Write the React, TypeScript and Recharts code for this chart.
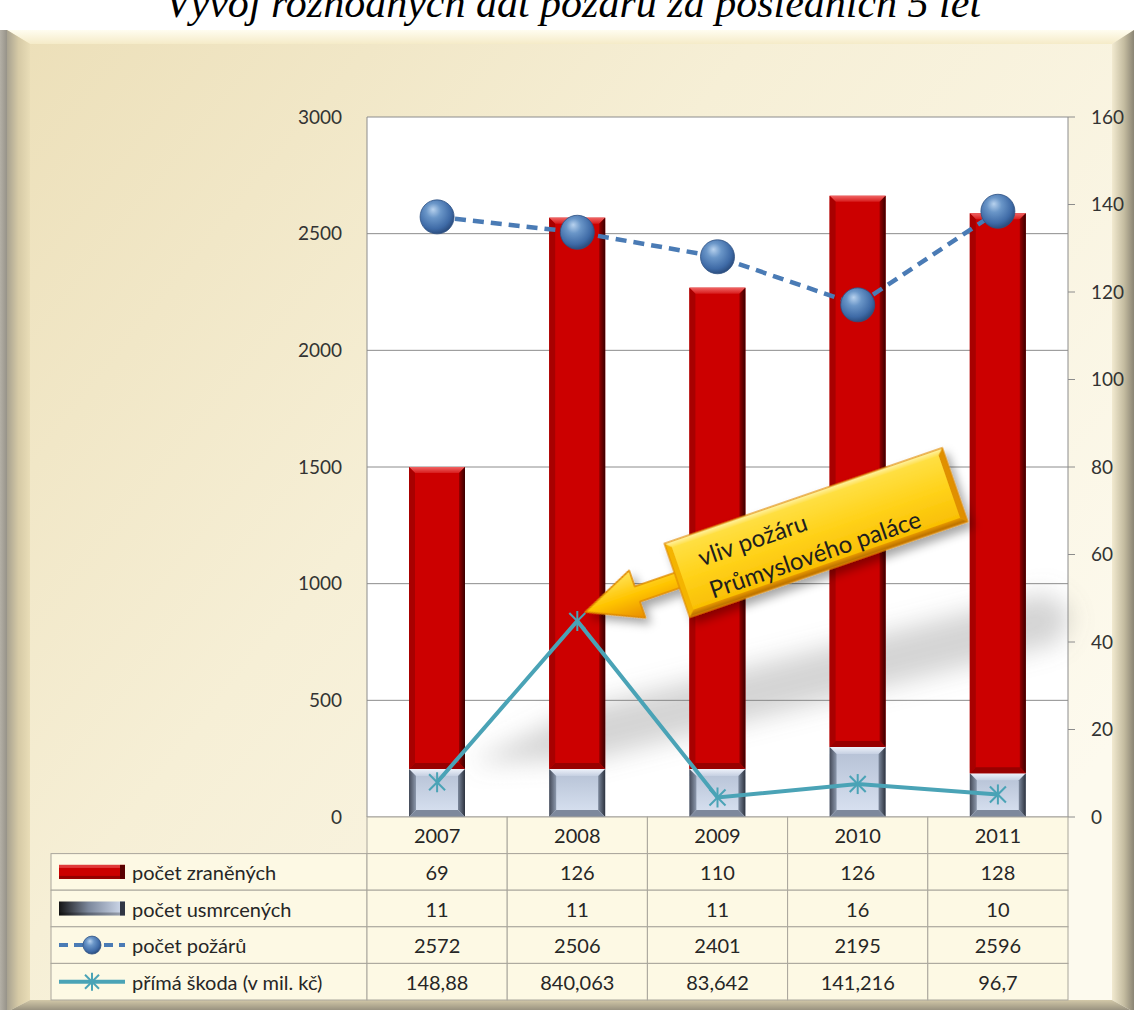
import React from 'react';
import { ComposedChart, Bar, Line, XAxis, YAxis, CartesianGrid, ReferenceDot } from 'recharts';

// ---------- data ----------
const years = ['2007', '2008', '2009', '2010', '2011'];
const zranenych = [69, 126, 110, 126, 128];
const usmrcenych = [11, 11, 11, 16, 10];
const pozaru = [2572, 2506, 2401, 2195, 2596];
const skoda = [148.88, 840.063, 83.642, 141.216, 96.7];
const leftTicks = [0, 500, 1000, 1500, 2000, 2500, 3000];
const rightTicks = [0, 20, 40, 60, 80, 100, 120, 140, 160];
const seriesNames = ['počet zraněných', 'počet usmrcených', 'počet požárů', 'přímá škoda (v mil. kč)'];
const titleText = 'Vývoj rozhodných dat požárů za posledních 5 let';
const calloutLines = ['vliv požáru', 'Průmyslového paláce'];
const calloutYear = '2008';

const data = years.map((year, i) => ({
  year,
  zranenych: zranenych[i],
  usmrcenych: usmrcenych[i],
  pozaru: pozaru[i],
  skoda: skoda[i],
}));

const fmt = (v: number) => String(v).replace('.', ',');

// ---------- layout ----------
const W = 1134;
const H = 1010;
const PLOT_L = 367;
const PLOT_R = 1068;
const PLOT_T = 117;
const TABLE_H = 183;
const ROW_H = TABLE_H / 5;
const LEGEND_L = 51;
const FONT = 'Lato, "Open Sans", "Noto Sans", sans-serif';
const CELL_BG = '#fdf9e4';
const BORDER = '#a9a69c';
const TXT = '#262626';

// ---------- bar shapes ----------
function RedBar(props: any) {
  const { x, y, width: w, height: h } = props;
  if (!h || h <= 0) return null;
  const b = Math.min(6, h / 4);
  return (
    <g>
      <rect x={x} y={y} width={w} height={h} fill="#cc0000" />
      <polygon points={`${x},${y} ${x + w},${y} ${x + w - b},${y + b} ${x + b},${y + b}`} fill="url(#redTop)" />
      <polygon points={`${x},${y} ${x + b},${y + b} ${x + b},${y + h - b} ${x},${y + h}`} fill="#a80000" />
      <polygon points={`${x + w},${y} ${x + w},${y + h} ${x + w - b},${y + h - b} ${x + w - b},${y + b}`} fill="url(#redRight)" />
      <polygon points={`${x},${y + h} ${x + b},${y + h - b} ${x + w - b},${y + h - b} ${x + w},${y + h}`} fill="#980000" />
    </g>
  );
}

function GreyBar(props: any) {
  const { x, y, width: w, height: h } = props;
  if (!h || h <= 0) return null;
  const b = Math.min(7, h / 4);
  return (
    <g>
      <rect x={x} y={y} width={w} height={h} fill="url(#greyFace)" />
      <polygon points={`${x},${y} ${x + w},${y} ${x + w - b},${y + b} ${x + b},${y + b}`} fill="url(#greyTop)" />
      <polygon points={`${x},${y} ${x + b},${y + b} ${x + b},${y + h - b} ${x},${y + h}`} fill="url(#greyLeft)" />
      <polygon points={`${x + w},${y} ${x + w},${y + h} ${x + w - b},${y + h - b} ${x + w - b},${y + b}`} fill="url(#greyRight)" />
      <polygon points={`${x},${y + h} ${x + b},${y + h - b} ${x + w - b},${y + h - b} ${x + w},${y + h}`} fill="#7d889c" />
    </g>
  );
}

// ---------- dots ----------
function SphereDot(props: any) {
  const { cx, cy, r = 17 } = props;
  if (cx == null || cy == null) return null;
  return <circle cx={cx} cy={cy} r={r} fill="url(#sphere)" stroke="#2f5283" strokeWidth={0.8} />;
}

function StarDot(props: any) {
  const { cx, cy, s = 8 } = props;
  if (cx == null || cy == null) return null;
  return (
    <g stroke="#4aa3b6" strokeWidth={2}>
      <line x1={cx - s} y1={cy - s} x2={cx + s} y2={cy + s} />
      <line x1={cx - s} y1={cy + s} x2={cx + s} y2={cy - s} />
      <line x1={cx} y1={cy - s - 2} x2={cx} y2={cy + s + 2} />
    </g>
  );
}

// ---------- callout ----------
function Callout(props: any) {
  const { cx, cy } = props;
  if (cx == null || cy == null) return null;
  const bx0 = 97, bx1 = 391, by0 = -39, by1 = 39, b = 6;
  return (
    <g transform={`translate(${cx + 8},${cy - 9}) rotate(-19)`}>
      <g filter="url(#calloutShadow)">
        <polygon points="0,0 55,-25 55,-8 100,-8 100,8 55,8 55,25" fill="url(#arrowGrad)" stroke="#e08a00" strokeWidth={1.5} strokeLinejoin="round" />
        <rect x={bx0} y={by0} width={bx1 - bx0} height={by1 - by0} fill="url(#boxFace)" />
        <polygon points={`${bx0},${by0} ${bx1},${by0} ${bx1 - b},${by0 + b} ${bx0 + b},${by0 + b}`} fill="url(#boxTop)" />
        <polygon points={`${bx0},${by0} ${bx0 + b},${by0 + b} ${bx0 + b},${by1 - b} ${bx0},${by1}`} fill="#f4b400" />
        <polygon points={`${bx1},${by0} ${bx1},${by1} ${bx1 - b},${by1 - b} ${bx1 - b},${by0 + b}`} fill="#e09000" />
        <polygon points={`${bx0},${by1} ${bx0 + b},${by1 - b} ${bx1 - b},${by1 - b} ${bx1},${by1}`} fill="url(#boxBottom)" />
        <rect x={bx0} y={by0} width={bx1 - bx0} height={by1 - by0} fill="none" stroke="#e08a00" strokeWidth={1.2} />
      </g>
      <text x={125} y={-5} fontFamily={FONT} fontSize={24} fill="#1e1e1e">{calloutLines[0]}</text>
      <text x={125} y={29} fontFamily={FONT} fontSize={24} fill="#1e1e1e">{calloutLines[1]}</text>
    </g>
  );
}

function CalloutShadow(props: any) {
  const { cx, cy } = props;
  if (cx == null || cy == null) return null;
  return (
    <g transform={`translate(${cx - 107},${cy + 142}) rotate(-14)`} filter="url(#blurBig)">
      <polygon points="0,0 120,-26 600,-26 620,0 600,26 120,26" fill="#7a7a7a" opacity={0.32} />
    </g>
  );
}

// ---------- table (drawn from the category axis) ----------
function LegendColumn({ top, right }: { top: number; right: number }) {
  const kx0 = 59, kx1 = 125, kc = (kx0 + kx1) / 2;
  return (
    <g>
      {seriesNames.map((name, k) => {
        const ry = top + (k + 1) * ROW_H;
        const yc = ry + ROW_H / 2;
        let key: any = null;
        if (k === 0) {
          key = (
            <g>
              <rect x={kx0} y={yc - 7} width={kx1 - kx0} height={14} fill="#cc0000" />
              <rect x={kx0} y={yc - 7} width={kx1 - kx0} height={3} fill="#e03a3a" />
              <rect x={kx0} y={yc + 4} width={kx1 - kx0} height={3} fill="#960000" />
              <polygon points={`${kx1 - 5},${yc - 7} ${kx1},${yc - 7} ${kx1},${yc + 7} ${kx1 - 5},${yc + 7}`} fill="#5a0000" />
            </g>
          );
        } else if (k === 1) {
          key = (
            <g>
              <rect x={kx0} y={yc - 7} width={kx1 - kx0} height={14} fill="url(#keyGrey)" />
              <rect x={kx0} y={yc + 4} width={kx1 - kx0} height={3} fill="#000" opacity={0.25} />
              <polygon points={`${kx1 - 5},${yc - 7} ${kx1},${yc - 7} ${kx1},${yc + 7} ${kx1 - 5},${yc + 7}`} fill="#303644" />
            </g>
          );
        } else if (k === 2) {
          key = (
            <g>
              <line x1={kx0} y1={yc} x2={kx1} y2={yc} stroke="#4a7bb5" strokeWidth={4} strokeDasharray="9 6" />
              <SphereDot cx={kc} cy={yc} r={9} />
            </g>
          );
        } else {
          key = (
            <g>
              <line x1={kx0} y1={yc} x2={kx1} y2={yc} stroke="#4aa3b6" strokeWidth={4} />
              <StarDot cx={kc} cy={yc} s={7} />
            </g>
          );
        }
        return (
          <g key={k}>
            <rect x={LEGEND_L} y={ry} width={right - LEGEND_L} height={ROW_H} fill={CELL_BG} stroke={BORDER} strokeWidth={1} />
            {key}
            <text x={132} y={yc} dominantBaseline="central" fontFamily={FONT} fontSize={20} fill={TXT}>{name}</text>
          </g>
        );
      })}
    </g>
  );
}

function TableTick(props: any) {
  const { x, y, payload } = props;
  const i = years.indexOf(String(payload && payload.value));
  if (i < 0) return null;
  const colW = (PLOT_R - PLOT_L) / years.length;
  const left = x - colW / 2;
  const cells = [years[i], String(zranenych[i]), String(usmrcenych[i]), String(pozaru[i]), fmt(skoda[i])];
  return (
    <g>
      {i === 0 && <LegendColumn top={y} right={left} />}
      {cells.map((v, r) => (
        <g key={r}>
          <rect x={left} y={y + r * ROW_H} width={colW} height={ROW_H} fill={CELL_BG} stroke={BORDER} strokeWidth={1} />
          <text x={x} y={y + r * ROW_H + ROW_H / 2} dominantBaseline="central" textAnchor="middle" fontFamily={FONT} fontSize={20} fill={TXT}>{v}</text>
        </g>
      ))}
    </g>
  );
}

// ---------- frame / background ----------
function Frame() {
  const x0 = 7, y0 = 30, x1 = 1134, y1 = 1012;
  const bL = 23, bT = 14, bR = 22, bB = 12;
  return (
    <svg width={W} height={H} style={{ position: 'absolute', left: 0, top: 0 }}>
      <defs>
        <linearGradient id="faceGrad" x1="0" y1="0" x2="1" y2="0.7">
          <stop offset="0" stopColor="#ecdfb8" />
          <stop offset="0.45" stopColor="#f6efd6" />
          <stop offset="1" stopColor="#fdfaee" />
        </linearGradient>
        <linearGradient id="leftBevel" x1="0" y1="0" x2="1" y2="0">
          <stop offset="0" stopColor="#a8a290" />
          <stop offset="0.5" stopColor="#d6caa6" />
          <stop offset="1" stopColor="#e9ddb7" />
        </linearGradient>
        <linearGradient id="rightBevel" x1="0" y1="0" x2="1" y2="0">
          <stop offset="0" stopColor="#f2ead0" />
          <stop offset="0.55" stopColor="#c4bca0" />
          <stop offset="1" stopColor="#8a8474" />
        </linearGradient>
        <linearGradient id="topBevel" x1="0" y1="0" x2="0" y2="1">
          <stop offset="0" stopColor="#fffdf0" />
          <stop offset="1" stopColor="#f5ebc8" />
        </linearGradient>
        <linearGradient id="bottomBevel" x1="0" y1="0" x2="0" y2="1">
          <stop offset="0" stopColor="#d2c8a8" />
          <stop offset="1" stopColor="#8e8878" />
        </linearGradient>
        <linearGradient id="outerShade" x1="0" y1="0" x2="1" y2="0">
          <stop offset="0" stopColor="#b4b0a6" />
          <stop offset="1" stopColor="#8e8a80" />
        </linearGradient>
        {/* chart gradients */}
        <linearGradient id="redTop" x1="0" y1="0" x2="0" y2="1">
          <stop offset="0" stopColor="#f06464" />
          <stop offset="1" stopColor="#d81c1c" />
        </linearGradient>
        <linearGradient id="redRight" x1="0" y1="0" x2="1" y2="0">
          <stop offset="0" stopColor="#960000" />
          <stop offset="1" stopColor="#3a0000" />
        </linearGradient>
        <linearGradient id="greyFace" x1="0" y1="0" x2="0" y2="1">
          <stop offset="0" stopColor="#b4c0d4" />
          <stop offset="1" stopColor="#dae3f2" />
        </linearGradient>
        <linearGradient id="greyTop" x1="0" y1="0" x2="0" y2="1">
          <stop offset="0" stopColor="#eef2fa" />
          <stop offset="1" stopColor="#c6d0e2" />
        </linearGradient>
        <linearGradient id="greyLeft" x1="0" y1="0" x2="1" y2="0">
          <stop offset="0" stopColor="#444a58" />
          <stop offset="1" stopColor="#8c98ac" />
        </linearGradient>
        <linearGradient id="greyRight" x1="0" y1="0" x2="1" y2="0">
          <stop offset="0" stopColor="#7c889c" />
          <stop offset="1" stopColor="#2c323e" />
        </linearGradient>
        <linearGradient id="keyGrey" x1="0" y1="0" x2="1" y2="0">
          <stop offset="0" stopColor="#151515" />
          <stop offset="0.45" stopColor="#7c889c" />
          <stop offset="1" stopColor="#d4def0" />
        </linearGradient>
        <radialGradient id="sphere" cx="0.42" cy="0.38" r="0.62" fx="0.38" fy="0.28">
          <stop offset="0" stopColor="#b8d2ee" />
          <stop offset="0.35" stopColor="#6a96c8" />
          <stop offset="0.8" stopColor="#3e6aa6" />
          <stop offset="1" stopColor="#2c4e80" />
        </radialGradient>
        <linearGradient id="arrowGrad" x1="0" y1="0" x2="0" y2="1">
          <stop offset="0" stopColor="#ffe45a" />
          <stop offset="0.5" stopColor="#ffc400" />
          <stop offset="1" stopColor="#e88c00" />
        </linearGradient>
        <linearGradient id="boxFace" x1="0" y1="0" x2="0" y2="1">
          <stop offset="0" stopColor="#ffe24a" />
          <stop offset="0.5" stopColor="#ffd21a" />
          <stop offset="1" stopColor="#f8bc00" />
        </linearGradient>
        <linearGradient id="boxTop" x1="0" y1="0" x2="0" y2="1">
          <stop offset="0" stopColor="#fff4a8" />
          <stop offset="1" stopColor="#ffe050" />
        </linearGradient>
        <linearGradient id="boxBottom" x1="0" y1="0" x2="0" y2="1">
          <stop offset="0" stopColor="#e89800" />
          <stop offset="1" stopColor="#b06800" />
        </linearGradient>
        <filter id="calloutShadow" x="-30%" y="-60%" width="160%" height="220%">
          <feDropShadow dx="3" dy="7" stdDeviation="5" floodColor="#000" floodOpacity="0.35" />
        </filter>
        <filter id="blurBig" x="-30%" y="-150%" width="160%" height="400%">
          <feGaussianBlur stdDeviation="12" />
        </filter>
      </defs>
      <rect x={0} y={0} width={W} height={H} fill="#ffffff" />
      <rect x={0} y={y0} width={x0 + 2} height={H - y0} fill="url(#outerShade)" />
      <rect x={x0} y={y0} width={x1 - x0} height={y1 - y0} fill="url(#faceGrad)" />
      <polygon points={`${x0},${y0} ${x1},${y0} ${x1 - bR},${y0 + bT} ${x0 + bL},${y0 + bT}`} fill="url(#topBevel)" />
      <polygon points={`${x0},${y0} ${x0 + bL},${y0 + bT} ${x0 + bL},${y1 - bB} ${x0},${y1}`} fill="url(#leftBevel)" />
      <polygon points={`${x1},${y0} ${x1},${y1} ${x1 - bR},${y1 - bB} ${x1 - bR},${y0 + bT}`} fill="url(#rightBevel)" />
      <polygon points={`${x0},${y1} ${x0 + bL},${y1 - bB} ${x1 - bR},${y1 - bB} ${x1},${y1}`} fill="url(#bottomBevel)" />
      <text x={573} y={17} textAnchor="middle" fontFamily='"Liberation Serif", "Times New Roman", serif' fontStyle="italic" fontSize={42} fill="#000">
        {titleText}
      </text>
    </svg>
  );
}

export default function App() {
  return (
    <div style={{ position: 'absolute', left: 0, top: 0, width: W, height: H, overflow: 'hidden' }}>
      <Frame />
      <div style={{ position: 'absolute', left: 0, top: 0 }}>
        <ComposedChart
          width={W}
          height={H}
          data={data}
          margin={{ top: PLOT_T, right: 16, bottom: 10, left: 267 }}
          barCategoryGap={0}
        >
          <CartesianGrid yAxisId="left" vertical={false} stroke="#8c8c8c" fill="#ffffff" />
          <XAxis
            dataKey="year"
            height={TABLE_H}
            axisLine={false}
            tickLine={false}
            tickSize={0}
            tickMargin={0}
            interval={0}
            tick={<TableTick />}
          />
          <YAxis
            yAxisId="left"
            orientation="left"
            width={100}
            domain={[0, 3000]}
            ticks={leftTicks}
            interval={0}
            axisLine={{ stroke: '#8c8c8c' }}
            tickLine={false}
            tickSize={0}
            tickMargin={25}
            tick={{ fill: '#333', fontSize: 19, fontFamily: FONT }}
          />
          <YAxis
            yAxisId="right"
            orientation="right"
            width={50}
            domain={[0, 160]}
            ticks={rightTicks}
            interval={0}
            axisLine={{ stroke: '#8c8c8c' }}
            tickLine={{ stroke: '#8c8c8c' }}
            tickSize={7}
            tickMargin={16}
            tick={{ fill: '#333', fontSize: 19, fontFamily: FONT, textAnchor: 'start' }}
          />
          <ReferenceDot
            yAxisId="left"
            x={calloutYear}
            y={skoda[years.indexOf(calloutYear)]}
            shape={(p: any) => <CalloutShadow {...p} />}
            ifOverflow="hidden"
            zIndex={0}
          />
          <Bar yAxisId="right" dataKey="usmrcenych" stackId="s" barSize={56} shape={(p: any) => <GreyBar {...p} />} isAnimationActive={false} />
          <Bar yAxisId="right" dataKey="zranenych" stackId="s" barSize={56} shape={(p: any) => <RedBar {...p} />} isAnimationActive={false} />
          <Line
            yAxisId="left"
            dataKey="pozaru"
            stroke="#4a7bb5"
            strokeWidth={4.5}
            strokeDasharray="11 7"
            dot={(p: any) => <SphereDot key={`s${p.index}`} {...p} r={17} />}
            activeDot={false}
            isAnimationActive={false}
          />
          <Line
            yAxisId="left"
            dataKey="skoda"
            stroke="#4aa3b6"
            strokeWidth={4}
            dot={(p: any) => <StarDot key={`t${p.index}`} {...p} s={8} />}
            activeDot={false}
            isAnimationActive={false}
          />
          <ReferenceDot
            yAxisId="left"
            x={calloutYear}
            y={skoda[years.indexOf(calloutYear)]}
            shape={(p: any) => <Callout {...p} />}
            ifOverflow="visible"
          />
        </ComposedChart>
      </div>
    </div>
  );
}
